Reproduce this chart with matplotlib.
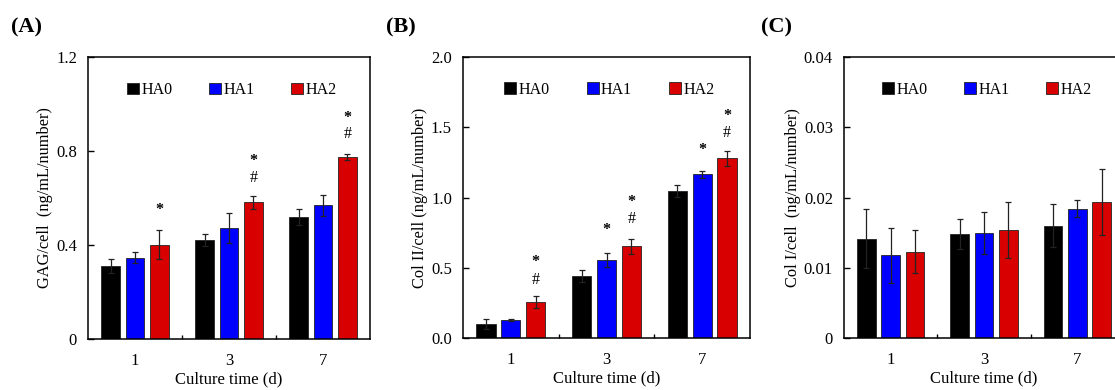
import matplotlib
matplotlib.use("Agg")
import matplotlib.pyplot as plt
from matplotlib.patches import Patch
import numpy as np

plt.rcParams['font.family'] = ['Liberation Serif', 'DejaVu Serif']

days = ["1", "3", "7"]
series = ["HA0", "HA1", "HA2"]
colors = ["#000000", "#0000ff", "#d80000"]

# Panel A: GAG/cell
gag_mean = {"HA0": [0.312, 0.421, 0.520], "HA1": [0.346, 0.473, 0.569], "HA2": [0.402, 0.582, 0.775]}
gag_err = {"HA0": [0.030, 0.025, 0.034], "HA1": [0.023, 0.063, 0.045], "HA2": [0.060, 0.027, 0.014]}
gag_ticks = [0, 0.4, 0.8, 1.2]
gag_ticklabels = ["0", "0.4", "0.8", "1.2"]
gag_marks = [(0, 2, "*", 0.548), (1, 2, "*", 0.757), (1, 2, "#", 0.685),
             (2, 2, "*", 0.942), (2, 2, "#", 0.871)]

# Panel B: Col II/cell
col2_mean = {"HA0": [0.102, 0.439, 1.046], "HA1": [0.130, 0.555, 1.165], "HA2": [0.254, 0.652, 1.279]}
col2_err = {"HA0": [0.035, 0.043, 0.045], "HA1": [0.008, 0.052, 0.024], "HA2": [0.043, 0.052, 0.054]}
col2_ticks = [0, 0.5, 1.0, 1.5, 2.0]
col2_ticklabels = ["0.0", "0.5", "1.0", "1.5", "2.0"]
col2_marks = [(0, 2, "*", 0.541), (0, 2, "#", 0.415), (1, 1, "*", 0.766),
              (1, 2, "*", 0.968), (1, 2, "#", 0.845), (2, 1, "*", 1.340),
              (2, 2, "*", 1.578), (2, 2, "#", 1.459)]

# Panel C: Col I/cell
col1_mean = {"HA0": [0.01415, 0.01482, 0.0160], "HA1": [0.01179, 0.01491, 0.01841], "HA2": [0.01231, 0.01543, 0.01936]}
col1_err = {"HA0": [0.0042, 0.0021, 0.0031], "HA1": [0.0039, 0.0030, 0.0012], "HA2": [0.0031, 0.0040, 0.0047]}
col1_ticks = [0, 0.01, 0.02, 0.03, 0.04]
col1_ticklabels = ["0", "0.01", "0.02", "0.03", "0.04"]
col1_marks = []

panels = [
    ("(A)", "GAG/cell  (ng/mL/number)", gag_mean, gag_err, gag_ticks, gag_ticklabels, gag_marks),
    ("(B)", "Col II/cell (ng/mL/number)", col2_mean, col2_err, col2_ticks, col2_ticklabels, col2_marks),
    ("(C)", "Col I/cell  (ng/mL/number)", col1_mean, col1_err, col1_ticks, col1_ticklabels, col1_marks),
]

W, H = 1115, 390
fig = plt.figure(figsize=(W / 100, H / 100), dpi=100)

# axes boxes in pixels: left, top, right, bottom
boxes = [(88, 57, 370, 339), (463, 57, 750, 338), (844, 57, 1124, 338)]
label_pos = [(11, 27), (386, 27), (761, 27)]

bw = 0.2
step = 0.26
for (title, ylabel, means, errs, ticks, ticklabels, marks), (l, t, r, b), (lx, ly) in zip(panels, boxes, label_pos):
    ax = fig.add_axes([l / W, (H - b) / H, (r - l) / W, (b - t) / H])
    centers = np.arange(len(days)) + 0.5
    for i, (s, c) in enumerate(zip(series, colors)):
        xs = centers + (i - 1) * step
        ax.bar(xs, means[s], width=bw, color=c, edgecolor="#222222", linewidth=0.6,
               yerr=errs[s], capsize=2.5, error_kw=dict(ecolor="#222222", elinewidth=0.9, capthick=0.9))
    for g, si, txt, yv in marks:
        x = centers[g] + (si - 1) * step
        ax.text(x, yv, txt, ha="center", va="center", fontsize=11.5,
                fontweight="bold" if txt == "*" else "normal")
    ax.set_xlim(0, 3)
    ax.set_ylim(ticks[0], ticks[-1])
    ax.set_yticks(ticks)
    ax.set_yticklabels(ticklabels)
    ax.set_xticks(centers)
    ax.set_xticklabels(days)
    ax.set_xticks([1, 2], minor=True)
    ax.tick_params(axis="x", which="major", length=0, labelsize=12, pad=10)
    ax.tick_params(axis="x", which="minor", direction="in", length=3, width=1)
    ax.tick_params(axis="y", direction="in", length=4, width=1, labelsize=12, pad=8)
    for sp in ax.spines.values():
        sp.set_linewidth(1.1)
    ax.set_xlabel("Culture time (d)", fontsize=12, labelpad=2)
    ax.set_ylabel(ylabel, fontsize=11.8, labelpad=2)
    handles = [Patch(facecolor=c, edgecolor="#222222", linewidth=0.6) for c in colors]
    ax.legend(handles, series, loc="center", bbox_to_anchor=(0.51, 0.883), ncol=3, frameon=False,
              handlelength=0.75, handleheight=0.75, handletextpad=0.15, columnspacing=2.3,
              fontsize=11.5, borderpad=0)
    fig.text(lx / W, (H - ly) / H, title, fontsize=16, fontweight="bold", ha="left", va="center")

fig.savefig("out.png", dpi=100)
